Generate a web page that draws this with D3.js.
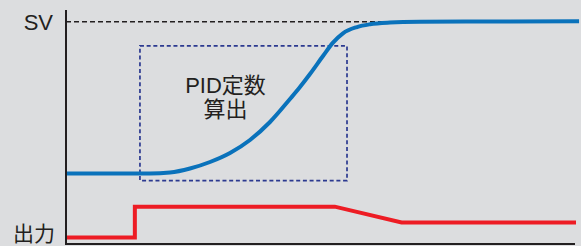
<!DOCTYPE html>
<html><head><meta charset="utf-8">
<script src="https://cdn.jsdelivr.net/npm/d3@7/dist/d3.min.js"></script>
<style>
html,body{margin:0;padding:0;background:#dcdddf;}
svg{display:block;}
text{font-family:"Liberation Sans","Noto Sans CJK JP",sans-serif;fill:#231f20;}
</style></head><body>
<script>
// Data (time 0..100, value 0..100 where SV = 100)
const pvTime  = [0, 16.47, 20.39, 24.31, 28.24, 32.16, 36.08, 40.0, 43.92, 45.88, 47.84, 50.39, 52.35, 54.31, 57.06, 59.61, 63.53, 69.41, 81.18, 100.6];
const pvValue = [31.7, 31.7, 32.16, 33.96, 36.89, 40.94, 46.78, 54.88, 65.23, 70.63, 76.47, 84.57, 90.6, 94.8, 97.6, 98.85, 99.6, 99.96, 100.1, 100.2];
const outTime  = [0, 13.5, 13.5, 52.7, 65.8, 100];
const outValue = [2.9, 2.9, 16.8, 16.8, 9.7, 9.7];
const svValue = 100;
const boxTime = [14.5, 55.1];
const boxValue = [28.5, 89.1];
const labels = {sv: "SV", out: "出力", box: ["PID定数", "算出"]};

const W = 581, H = 246;
const svg = d3.select("body").append("svg").attr("width", W).attr("height", H);
const x = d3.scaleLinear().domain([0, 100]).range([66, 576]);
const y = d3.scaleLinear().domain([0, 100]).range([244, 21.7]);

// SV dashed line
svg.append("line")
  .attr("x1", x(0)).attr("x2", x(100)).attr("y1", y(svValue)).attr("y2", y(svValue))
  .attr("stroke", "#231f20").attr("stroke-width", 1.6).attr("stroke-dasharray", "5,3");

// dashed box
svg.append("rect")
  .attr("x", x(boxTime[0])).attr("y", y(boxValue[1]))
  .attr("width", x(boxTime[1]) - x(boxTime[0])).attr("height", y(boxValue[0]) - y(boxValue[1]))
  .attr("fill", "none").attr("stroke", "#2b3990").attr("stroke-width", 1.7).attr("stroke-dasharray", "4,2.7");

// box text
const cx = (x(boxTime[0]) + x(boxTime[1])) / 2 - 18;
svg.append("text").attr("x", cx).attr("y", 93).attr("text-anchor", "middle")
  .attr("font-size", 22).text(labels.box[0]);
svg.append("text").attr("x", cx).attr("y", 117).attr("text-anchor", "middle")
  .attr("font-size", 22).text(labels.box[1]);

// lines
const pv = pvTime.map((t, i) => [t, pvValue[i]]);
const out = outTime.map((t, i) => [t, outValue[i]]);
svg.append("path").datum(pv)
  .attr("d", d3.line().x(d => x(d[0])).y(d => y(d[1])).curve(d3.curveMonotoneX))
  .attr("fill", "none").attr("stroke", "#0a72bb").attr("stroke-width", 4);
svg.append("path").datum(out)
  .attr("d", d3.line().x(d => x(d[0])).y(d => y(d[1])))
  .attr("fill", "none").attr("stroke", "#ed1c24").attr("stroke-width", 4);

// axes
svg.append("line").attr("x1", x(0)).attr("x2", x(0)).attr("y1", 10).attr("y2", 245)
  .attr("stroke", "#231f20").attr("stroke-width", 2);
svg.append("line").attr("x1", x(0)).attr("x2", 575).attr("y1", 244).attr("y2", 244)
  .attr("stroke", "#231f20").attr("stroke-width", 2);

// axis labels
svg.append("text").attr("x", 53).attr("y", 30).attr("text-anchor", "end")
  .attr("font-size", 22).text(labels.sv);
svg.append("text").attr("x", 55).attr("y", 241).attr("text-anchor", "end")
  .attr("font-size", 21).text(labels.out);
</script>
</body></html>
